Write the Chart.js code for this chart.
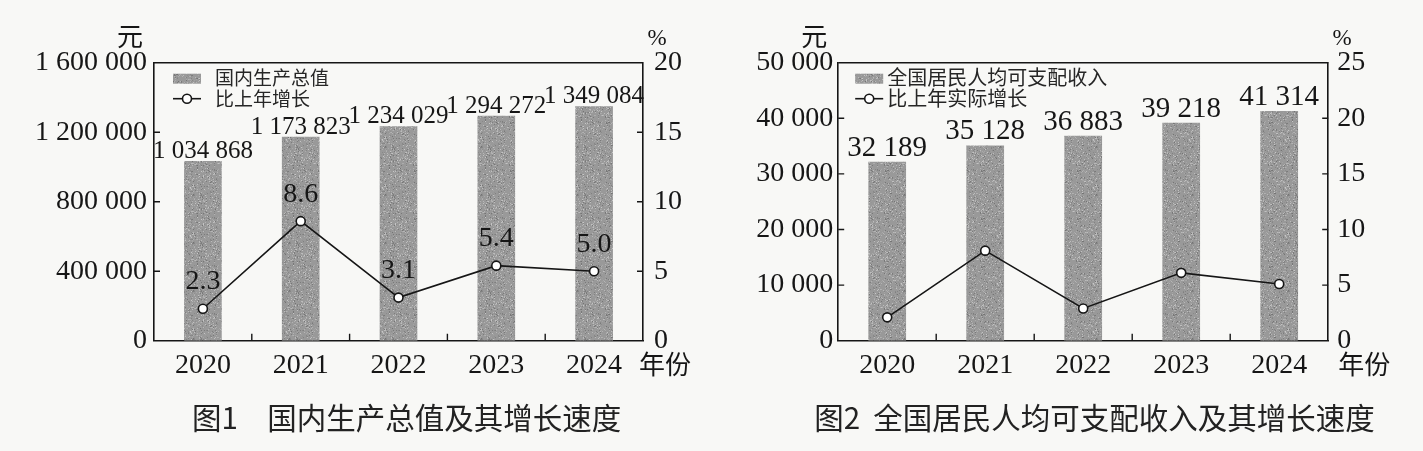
<!DOCTYPE html>
<html>
<head>
<meta charset="utf-8">
<script src="https://cdn.jsdelivr.net/npm/chart.js@4.4.1/dist/chart.umd.min.js"></script>
<style>
    html, body { margin: 0; padding: 0; background: #f8f8f6; }
    #wrap { position: relative; width: 1423px; height: 451px; overflow: hidden; }
    .box { position: absolute; top: 0; height: 451px; }
</style>
</head>
<body>
<div id="wrap">
    <div class="box" style="left:0;width:711px"><canvas id="c1"></canvas></div>
    <div class="box" style="left:711px;width:712px"><canvas id="c2"></canvas></div>
</div>
<script>
'use strict';

// data
var years = ['2020', '2021', '2022', '2023', '2024'];
var gdpValues = [1034868, 1173823, 1234029, 1294272, 1349084];
var gdpGrowth = [2.3, 8.6, 3.1, 5.4, 5.0];
var incomeValues = [32189, 35128, 36883, 39218, 41314];
var incomeGrowth = [2.1, 8.1, 2.9, 6.1, 5.1];

var gdpTicks = [0, 400000, 800000, 1200000, 1600000];
var gdpRateTicks = [0, 5, 10, 15, 20];
var incomeTicks = [0, 10000, 20000, 30000, 40000, 50000];
var incomeRateTicks = [0, 5, 10, 15, 20, 25];

var INK = '#161616';
var SERIF = '"Liberation Serif", "DejaVu Serif", serif';
var CJK = '"Noto Sans CJK SC", sans-serif';

function fmt(v) {
    return String(v).replace(/\B(?=(\d{3})+(?!\d))/g, ' ');
}

// grey speckled fill like the printed bars (fixed seed, only a texture)
function barPattern() {
    var c = document.createElement('canvas');
    c.width = 48; c.height = 48;
    var g = c.getContext('2d');
    g.fillStyle = '#999999';
    g.fillRect(0, 0, 48, 48);
    var seed = 7;
    function rnd() {
        seed = (seed * 1103515245 + 12345) & 0x7fffffff;
        return seed / 0x7fffffff;
    }
    for (var i = 0; i < 900; i++) {
        var x = Math.floor(rnd() * 48), y = Math.floor(rnd() * 48);
        var l = Math.floor(115 + rnd() * 85);
        g.fillStyle = 'rgb(' + l + ',' + l + ',' + l + ')';
        g.fillRect(x, y, 1, 1);
    }
    return g.createPattern(c, 'repeat');
}
var pattern = barPattern();

var extrasPlugin = {
    id: 'extras',
    afterDatasetsDraw: function (chart, args, o) {
        var ctx = chart.ctx;
        var a = chart.chartArea;
        var sx = chart.scales.x, sy = chart.scales.y, sr = chart.scales.y1;
        ctx.save();

        // frame top line
        ctx.strokeStyle = INK;
        ctx.lineWidth = 1.6;
        ctx.beginPath();
        ctx.moveTo(a.left, a.top);
        ctx.lineTo(a.right, a.top);
        ctx.stroke();

        // inward ticks
        ctx.lineWidth = 1.4;
        ctx.beginPath();
        sy.ticks.forEach(function (t) {
            var y = sy.getPixelForValue(t.value);
            if (t.value === sy.min || t.value === sy.max) return;
            ctx.moveTo(a.left, y); ctx.lineTo(a.left + 6, y);
        });
        sr.ticks.forEach(function (t) {
            var y = sr.getPixelForValue(t.value);
            if (t.value === sr.min || t.value === sr.max) return;
            ctx.moveTo(a.right, y); ctx.lineTo(a.right - 6, y);
        });
        for (var i = 1; i < years.length; i++) {
            var x = (sx.getPixelForValue(i - 1) + sx.getPixelForValue(i)) / 2;
            ctx.moveTo(x, a.bottom); ctx.lineTo(x, a.bottom - 7);
        }
        ctx.stroke();

        // value labels
        var bars = chart.getDatasetMeta(0);
        var barData = chart.data.datasets[0].data;
        ctx.fillStyle = INK;
        ctx.textAlign = 'center';
        ctx.textBaseline = 'alphabetic';
        ctx.font = o.barLabelSize + 'px ' + SERIF;
        bars.data.forEach(function (el, i) {
            ctx.fillText(fmt(barData[i]), el.x, el.y - o.barLabelGap);
        });
        if (o.showRateLabels) {
            var pts = chart.getDatasetMeta(1);
            var rateData = chart.data.datasets[1].data;
            ctx.textBaseline = 'middle';
            ctx.font = '28px ' + SERIF;
            pts.data.forEach(function (el, i) {
                ctx.fillText(rateData[i].toFixed(1), el.x, el.y - 27);
            });
        }

        // legend
        var ds0 = chart.data.datasets[0], ds1 = chart.data.datasets[1];
        var lx = a.left + o.legendX;
        ctx.fillStyle = pattern;
        ctx.fillRect(lx, a.top + 11, 28, 10);
        ctx.strokeStyle = INK;
        ctx.lineWidth = 1.6;
        ctx.beginPath();
        ctx.moveTo(lx, a.top + 36); ctx.lineTo(lx + 28, a.top + 36);
        ctx.stroke();
        ctx.beginPath();
        ctx.fillStyle = '#fff';
        ctx.arc(lx + 14, a.top + 36, 4.5, 0, Math.PI * 2);
        ctx.fill();
        ctx.stroke();
        ctx.fillStyle = '#262626';
        ctx.textAlign = 'left';
        ctx.textBaseline = 'middle';
        ctx.font = o.legendSize + 'px ' + CJK;
        ctx.fillText(ds0.label, a.left + o.legendTextX, a.top + 15);
        ctx.fillText(ds1.label, a.left + o.legendTextX, a.top + 36);

        // axis units
        ctx.fillStyle = INK;
        ctx.textAlign = 'center';
        ctx.font = '26px ' + CJK;
        ctx.fillText('元', a.left - 24, 36);
        ctx.fillText('年份', a.right + o.yearX, a.bottom + 23);
        ctx.font = '23px ' + SERIF;
        ctx.fillText('%', a.right + 14, 39);

        // caption
        ctx.textAlign = 'left';
        ctx.font = '29.5px ' + CJK;
        ctx.fillStyle = '#222';
        ctx.fillText(o.caption, a.left + o.captionX, 418);

        ctx.restore();
    }
};

function fixedTicks(list) {
    return function (scale) {
        scale.ticks = list.map(function (v) { return { value: v }; });
    };
}

function makeChart(id, cfg) {
    var tickFont = { family: SERIF, size: 28 };
    return new Chart(document.getElementById(id), {
        type: 'bar',
        data: {
            labels: years,
            datasets: [{
                type: 'bar',
                label: cfg.barLabel,
                data: cfg.bars,
                yAxisID: 'y',
                backgroundColor: pattern,
                barPercentage: 0.385,
                categoryPercentage: 1,
                order: 1
            }, {
                type: 'line',
                label: cfg.lineLabel,
                data: cfg.rates,
                yAxisID: 'y1',
                borderColor: INK,
                borderWidth: 1.6,
                pointRadius: 4.5,
                pointBackgroundColor: '#fff',
                pointBorderColor: INK,
                pointBorderWidth: 1.6,
                tension: 0,
                order: 0
            }]
        },
        options: {
            responsive: true,
            maintainAspectRatio: false,
            animation: false,
            layout: {
                autoPadding: false,
                padding: { left: 0, right: 0, top: 62.7, bottom: 70.3 }
            },
            plugins: {
                legend: { display: false },
                tooltip: { enabled: false },
                extras: cfg.extras
            },
            scales: {
                x: {
                    offset: true,
                    grid: { display: false, drawTicks: false },
                    border: { display: true, color: INK, width: 1.6 },
                    ticks: { font: tickFont, color: INK, padding: 8 },
                    afterFit: function (s) { s.height = 40; }
                },
                y: {
                    position: 'left',
                    min: 0,
                    max: cfg.yTicks[cfg.yTicks.length - 1],
                    afterBuildTicks: fixedTicks(cfg.yTicks),
                    grid: { display: false, drawTicks: false },
                    border: { display: true, color: INK, width: 1.6 },
                    ticks: { font: tickFont, color: INK, padding: cfg.leftPad, callback: fmt },
                    afterFit: function (s) { s.width = cfg.leftWidth; }
                },
                y1: {
                    position: 'right',
                    min: 0,
                    max: cfg.rTicks[cfg.rTicks.length - 1],
                    afterBuildTicks: fixedTicks(cfg.rTicks),
                    grid: { display: false, drawTicks: false },
                    border: { display: true, color: INK, width: 1.6 },
                    ticks: { font: tickFont, color: INK, padding: cfg.rightPad },
                    afterFit: function (s) { s.width = cfg.rightWidth; }
                }
            }
        },
        plugins: [extrasPlugin]
    });
}

makeChart('c1', {
    barLabel: '国内生产总值',
    lineLabel: '比上年增长',
    bars: gdpValues,
    rates: gdpGrowth,
    yTicks: gdpTicks,
    rTicks: gdpRateTicks,
    leftWidth: 154,
    rightWidth: 68,
    leftPad: 7,
    rightPad: 11,
    extras: {
        barLabelSize: 25, barLabelGap: 3, showRateLabels: true, legendSize: 19,
        legendX: 19, legendTextX: 61, yearX: 22, captionX: 38,
        caption: '图1\u3000国内生产总值及其增长速度'
    }
});

makeChart('c2', {
    barLabel: '全国居民人均可支配收入',
    lineLabel: '比上年实际增长',
    bars: incomeValues,
    rates: incomeGrowth,
    yTicks: incomeTicks,
    rTicks: incomeRateTicks,
    leftWidth: 127.2,
    rightWidth: 94.8,
    leftPad: 5,
    rightPad: 9,
    extras: {
        barLabelSize: 29, barLabelGap: 6, showRateLabels: false, legendSize: 20,
        legendX: 17, legendTextX: 49, yearX: 36, captionX: -24,
        caption: '图2  全国居民人均可支配收入及其增长速度'
    }
});
</script>
</body>
</html>
